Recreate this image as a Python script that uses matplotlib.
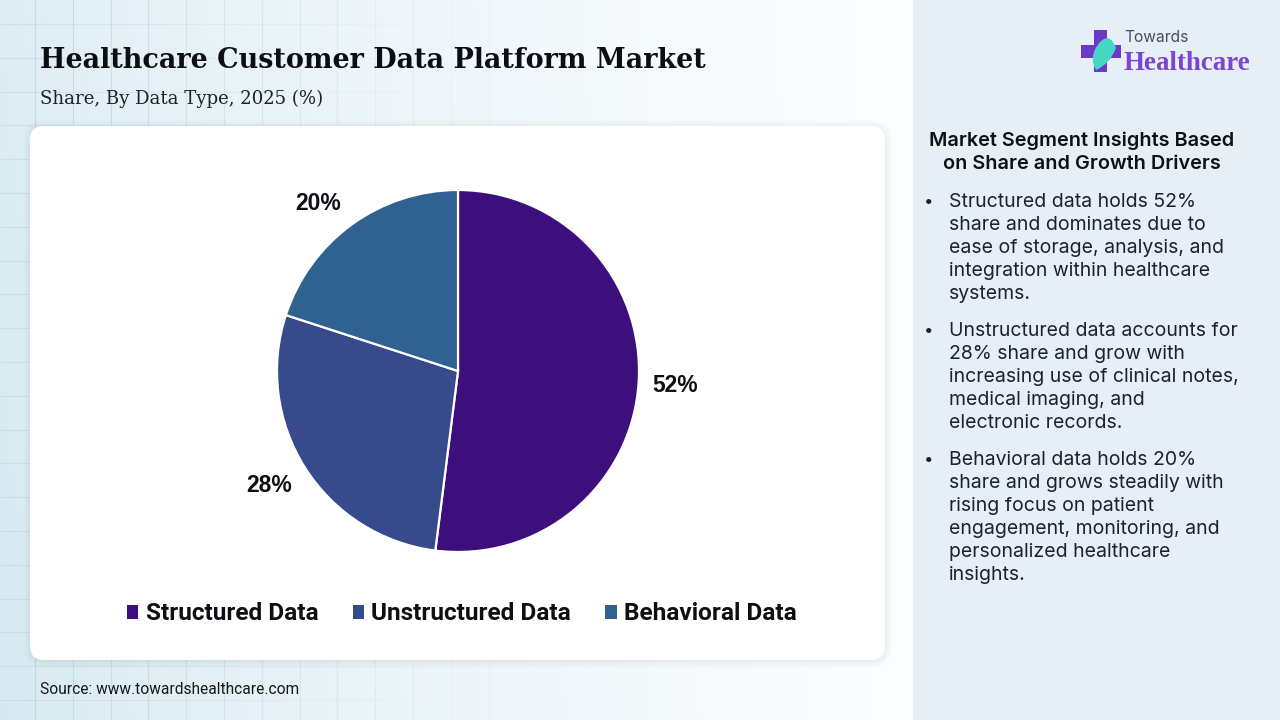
import numpy as np
import matplotlib
matplotlib.use('Agg')
import matplotlib.pyplot as plt
from matplotlib.patches import FancyBboxPatch, Rectangle, PathPatch
from matplotlib.path import Path

title = 'Healthcare Customer Data Platform Market'
subtitle = 'Share, By Data Type, 2025 (%)'
source = 'Source: www.towardshealthcare.com'
categories = ['Structured Data', 'Unstructured Data', 'Behavioral Data']
shares = [52, 28, 20]
colors = ['#3c0f7d', '#364a8c', '#2f6191']
panel_head = ['Market Segment Insights Based', 'on Share and Growth Drivers']
panel_bullets = [
    ['Structured data holds 52%', 'share and dominates due to', 'ease of storage, analysis, and',
     'integration within healthcare', 'systems.'],
    ['Unstructured data accounts for', '28% share and grow with', 'increasing use of clinical notes,',
     'medical imaging, and', 'electronic records.'],
    ['Behavioral data holds 20%', 'share and grows steadily with', 'rising focus on patient',
     'engagement, monitoring, and', 'personalized healthcare', 'insights.'],
]

W, H = 1280, 720
fig = plt.figure(figsize=(12.8, 7.2), dpi=100)

# full figure layer in pixel coords
bg = fig.add_axes([0, 0, 1, 1])
bg.axis('off')

# background wash, pale blue on the left going to white
xx, yy = np.meshgrid(np.linspace(0, 1, 230), np.linspace(0, 1, 130))
t = np.clip(xx ** 0.75 * 1.0 + 0.18 * (1 - yy) * (1 - xx), 0, 1)[..., None]
wash = (1 - t) * np.array([0.84, 0.915, 0.945]) + t * np.array([0.99, 0.995, 1.0])
bg.imshow(wash, extent=[0, 913, H, 0], aspect='auto', zorder=0)
bg.set_xlim(0, W)
bg.set_ylim(H, 0)

for x in np.arange(35, 560, 37.8):
    bg.plot([x, x], [0, H], color='#b9c9d4', lw=0.8, alpha=0.6 * (1 - x / 560), zorder=1)
# horizontal lines fade out to the right, drawn in short pieces
for y in np.arange(24, H, 33.8):
    for x0 in np.arange(0, 440, 40):
        bg.plot([x0, x0 + 40], [y, y], color='#b9c9d4', lw=0.8, alpha=0.4 * (1 - x0 / 440),
                solid_capstyle='butt', zorder=1)

bg.add_patch(Rectangle((913, 0), W - 913, H, fc='#e7eff6', ec='none', zorder=2))

# card
for grow, a in zip([7, 5, 3, 1], [0.015, 0.02, 0.025, 0.03]):
    bg.add_patch(FancyBboxPatch((30 - grow, 126 - grow + 1), 855 + 2 * grow, 534 + 2 * grow,
                                boxstyle='round,pad=0,rounding_size=%d' % (14 + grow),
                                fc='#50647a', ec='none', alpha=a, zorder=3))
bg.add_patch(FancyBboxPatch((30, 126), 855, 534, boxstyle='round,pad=0,rounding_size=14',
                            fc='white', ec='none', zorder=4))

# title block
bg.text(40, 61, title, family='DejaVu Serif', weight='bold', fontsize=19.45, color='#0b0f14',
        va='center', ha='left', zorder=5)
bg.text(40, 99, subtitle, family='DejaVu Serif', fontsize=13.1, color='#1b2229',
        va='center', ha='left', zorder=5)
bg.text(40, 690, source, family='Roboto', fontsize=11.2, color='#14181d',
        va='center', ha='left', zorder=5)

# logo
bg.add_patch(Rectangle((1094, 30), 13, 42, fc='#6d37c9', ec='none', zorder=5))
bg.add_patch(Rectangle((1081, 45), 40, 13, fc='#6d37c9', ec='none', zorder=5))
leaf = Path([(1096, 70), (1088, 56), (1100, 42), (1110, 32), (1116, 48), (1110, 64), (1096, 70)],
            [Path.MOVETO] + [Path.CURVE3] * 6)
bg.add_patch(PathPatch(leaf, fc='#45d6c4', ec='none', zorder=6))
bg.text(1124, 38, 'Towards', family='Inter', fontsize=11.2, color='#4a4d5a',
        va='center', ha='left', zorder=5)
bg.text(1124, 63, 'Healthcare', family='Liberation Serif', weight='bold', fontsize=19.4, color='#7b45cf',
        va='center', ha='left', zorder=5)

# right panel text
for i, line in enumerate(panel_head):
    bg.text(1082, 141 + i * 23, line, family='Inter', weight='semibold', fontsize=14.3,
            color='#0c1218', ha='center', va='center', zorder=5)

y = 202
for lines in panel_bullets:
    bg.text(929, y, '\u2022', family='Inter', fontsize=12, color='#1b2229', ha='center', va='center', zorder=5)
    for line in lines:
        bg.text(949, y, line, family='Inter', fontsize=14, color='#1b2229', ha='left', va='center', zorder=5)
        y += 23.1
    y += 13.4

# pie
cx, cy, r = 458, 371, 181
ax = fig.add_axes([(cx - r) / W, 1 - (cy + r) / H, 2 * r / W, 2 * r / H], zorder=2)
wedges, _ = ax.pie(shares, colors=colors, startangle=90, counterclock=False, radius=1,
                   wedgeprops={'edgecolor': 'white', 'linewidth': 1.6})
ax.set_xlim(-1, 1)
ax.set_ylim(-1, 1)

# percent labels
label_pos = [(675, 386), (269, 485), (318, 204)]
for val, (lx, ly) in zip(shares, label_pos):
    bg.text(lx, ly, '%d%%' % val, family='Liberation Sans', weight='bold', fontsize=16.5,
            color='#0c0f14', ha='center', va='center', zorder=5)

leg = fig.legend(wedges, categories, ncol=3, loc='center', bbox_to_anchor=(462 / W, 1 - 614 / H),
                 frameon=False, handlelength=0.47, handleheight=0.47, handletextpad=0.3,
                 columnspacing=1.4, prop={'family': 'Roboto', 'weight': 'bold', 'size': 17.6})
for h in leg.legend_handles:
    h.set_edgecolor('none')
for txt in leg.get_texts():
    txt.set_color('#0c0f14')

fig.savefig('out.png', dpi=100)
